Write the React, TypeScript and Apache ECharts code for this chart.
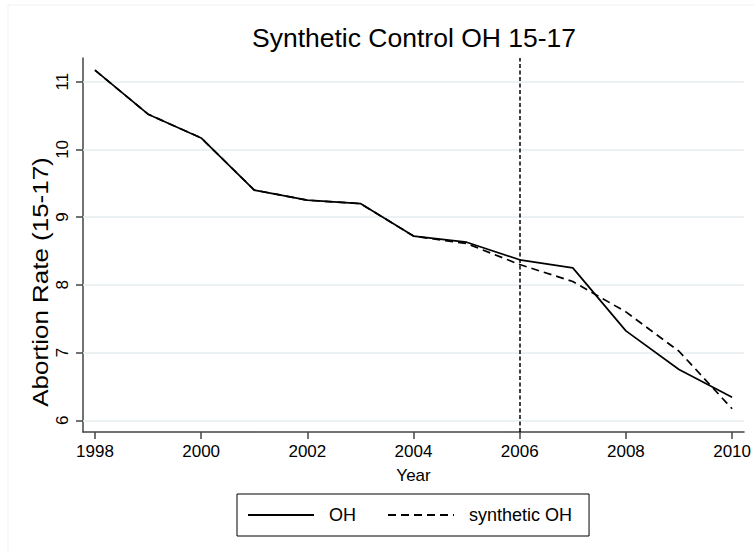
import React, { useEffect, useRef } from "react";
import * as echarts from "echarts";

const years = [1998, 1999, 2000, 2001, 2002, 2003, 2004, 2005, 2006, 2007, 2008, 2009, 2010];
const ohValues = [11.17, 10.52, 10.17, 9.4, 9.25, 9.2, 8.72, 8.63, 8.37, 8.25, 7.32, 6.75, 6.34];
const syntheticValues = [11.17, 10.52, 10.17, 9.4, 9.25, 9.2, 8.72, 8.61, 8.3, 8.05, 7.6, 7.02, 6.17];
const xTicks = [1998, 2000, 2002, 2004, 2006, 2008, 2010];
const yTicks = [6, 7, 8, 9, 10, 11];
const treatmentYear = 2006;

const FONT = "'Liberation Sans', Arial, Helvetica, sans-serif";

export default function App() {
  const ref = useRef<HTMLDivElement>(null);
  useEffect(() => {
    if (!ref.current) return;
    const chart = echarts.init(ref.current, undefined, { renderer: "svg" });
    const axisLineStyle = { color: "#444", width: 1.5 };
    chart.setOption({
      animation: false,
      backgroundColor: "#fff",
      title: {
        text: "Synthetic Control OH 15-17",
        left: 409,
        top: 19,
        textAlign: "center",
        textStyle: { fontSize: 26.5, fontWeight: "normal", color: "#000", fontFamily: FONT },
      },
      grid: { left: 83, top: 58, right: 8, bottom: 121, containLabel: false },
      legend: {
        left: 237,
        top: 494,
        itemWidth: 66,
        itemHeight: 14,
        itemGap: 31,
        padding: [12, 17, 12, 10],
        borderColor: "#000",
        borderWidth: 1,
        borderRadius: 0,
        itemStyle: { color: "rgba(0,0,0,0)", borderWidth: 0 },
        textStyle: { fontSize: 18, color: "#000", fontFamily: FONT, padding: [0, 0, 0, 10] },
        data: ["OH", "synthetic OH"],
      },
      xAxis: {
        type: "value",
        min: 1997.775,
        max: 2010.225,
        name: "Year",
        nameLocation: "middle",
        nameGap: 35,
        nameTextStyle: { fontSize: 17, color: "#000", fontFamily: FONT },
        axisLine: { show: true, onZero: false, lineStyle: axisLineStyle },
        axisTick: { show: true, length: 7, lineStyle: axisLineStyle, customValues: xTicks },
        axisLabel: {
          fontSize: 17,
          color: "#000",
          fontFamily: FONT,
          margin: 11,
          customValues: xTicks,
          formatter: (v: number) => String(v),
        },
        splitLine: { show: false },
      },
      yAxis: {
        type: "value",
        min: 5.827,
        max: 11.35,
        axisLine: { show: true, onZero: false, lineStyle: axisLineStyle },
        axisTick: { show: true, length: 7, lineStyle: axisLineStyle, customValues: yTicks },
        axisLabel: {
          fontSize: 17,
          color: "#000",
          fontFamily: FONT,
          margin: 12,
          rotate: 90,
          customValues: yTicks,
          formatter: (v: number) => String(v),
        },
        splitLine: { show: false },
      },
      graphic: [
        {
          type: "rect",
          shape: { x: 8, y: 5, width: 800, height: 600 },
          style: { fill: "none", stroke: "#eef2f3", lineWidth: 1 },
          silent: true,
          z: -10,
        },
        {
          type: "text",
          x: 40,
          y: 282,
          rotation: Math.PI / 2,
          scaleX: 1.18,
          style: {
            text: "Abortion Rate (15-17)",
            fontSize: 22,
            fontFamily: FONT,
            fill: "#000",
            textAlign: "center",
            textVerticalAlign: "middle",
          },
        },
      ],
      series: [
        {
          name: "OH",
          type: "line",
          data: years.map((y, i) => [y, ohValues[i]]),
          symbol: "none",
          lineStyle: { color: "#000", width: 1.7, type: "solid" },
          itemStyle: { color: "#000" },
          z: 3,
          markLine: {
            silent: true,
            symbol: "none",
            z: 1,
            label: { show: false },
            lineStyle: { color: "#e6eef0", width: 1.5, type: "solid" },
            data: yTicks.map((v) => ({ yAxis: v })),
          },
        },
        {
          name: "synthetic OH",
          type: "line",
          data: years.map((y, i) => [y, syntheticValues[i]]),
          symbol: "none",
          lineStyle: { color: "#000", width: 1.7, type: [8, 5] },
          itemStyle: { color: "#000" },
          z: 4,
          markLine: {
            silent: true,
            symbol: "none",
            label: { show: false },
            lineStyle: { color: "#000", width: 1.5, type: [4, 2.5] },
            data: [{ xAxis: treatmentYear }],
          },
        },
      ],
    });
    return () => chart.dispose();
  }, []);
  return (
    <div
      ref={ref}
      style={{ position: "fixed", left: 0, top: 0, width: 754, height: 553, background: "#fff" }}
    />
  );
}
